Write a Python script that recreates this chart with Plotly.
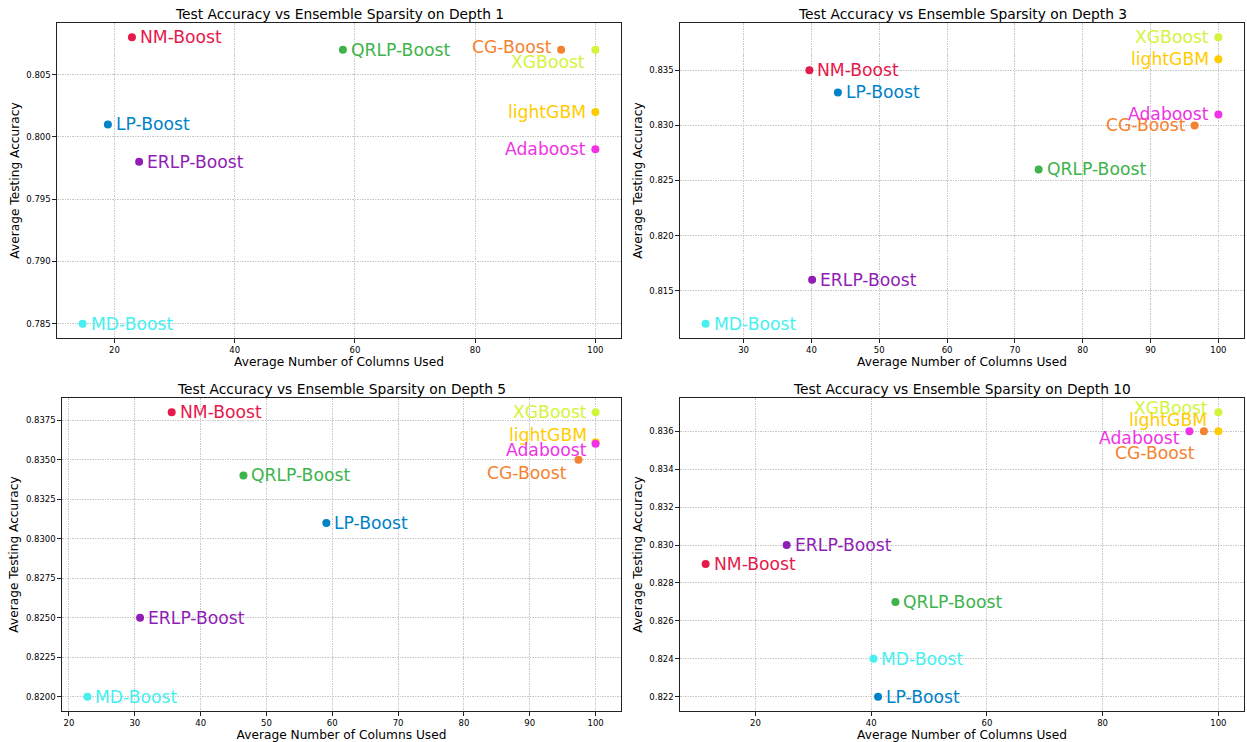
import plotly.graph_objects as go

# ---------------- data ----------------
methods = ["NM-Boost", "QRLP-Boost", "CG-Boost", "XGBoost", "lightGBM",
           "Adaboost", "LP-Boost", "ERLP-Boost", "MD-Boost"]

depth1_cols = [22.9, 58.0, 94.3, 100, 100, 100, 18.9, 24.1, 14.7]
depth1_acc = [0.808, 0.807, 0.807, 0.807, 0.802, 0.799, 0.801, 0.798, 0.785]

depth3_cols = [39.7, 73.5, 96.5, 100, 100, 100, 43.9, 40.1, 24.4]
depth3_acc = [0.835, 0.826, 0.830, 0.838, 0.836, 0.831, 0.833, 0.816, 0.812]

depth5_cols = [35.6, 46.5, 97.4, 100, 100, 100, 59.1, 30.8, 22.8]
depth5_acc = [0.838, 0.834, 0.835, 0.838, 0.8361, 0.836, 0.831, 0.825, 0.820]

depth10_cols = [11.4, 44.2, 97.5, 100, 100, 95.0, 41.2, 25.4, 40.4]
depth10_acc = [0.829, 0.827, 0.836, 0.837, 0.836, 0.836, 0.822, 0.830, 0.824]

depths = [1, 3, 5, 10]
x_ticks = {1: [20, 40, 60, 80, 100], 3: [30, 40, 50, 60, 70, 80, 90, 100],
           5: [20, 30, 40, 50, 60, 70, 80, 90, 100], 10: [20, 40, 60, 80, 100]}
y_ticks = {1: [0.785, 0.790, 0.795, 0.800, 0.805],
           3: [0.815, 0.820, 0.825, 0.830, 0.835],
           5: [0.8200, 0.8225, 0.8250, 0.8275, 0.8300, 0.8325, 0.8350, 0.8375],
           10: [0.822, 0.824, 0.826, 0.828, 0.830, 0.832, 0.834, 0.836]}
y_fmt = {1: ".3f", 3: ".3f", 5: ".4f", 10: ".3f"}

data = {1: (depth1_cols, depth1_acc), 3: (depth3_cols, depth3_acc),
        5: (depth5_cols, depth5_acc), 10: (depth10_cols, depth10_acc)}

# ---------------- styles ----------------
colors = {"NM-Boost": "#e6194b", "QRLP-Boost": "#3cb44b", "CG-Boost": "#f58231",
          "XGBoost": "#d2f53c", "lightGBM": "#ffcc00", "Adaboost": "#f032e6",
          "LP-Boost": "#0082c8", "ERLP-Boost": "#911eb4", "MD-Boost": "#46f0f0"}

# label placement per subplot: (xanchor, xshift, yshift)
place = {
    1: {"CG-Boost": ("right", -7, 3), "XGBoost": ("right", -8, -12),
        "lightGBM": ("right", -7, 0), "Adaboost": ("right", -7, 0)},
    3: {"XGBoost": ("right", -7, 0), "lightGBM": ("right", -7, 0),
        "Adaboost": ("right", -7, 0), "CG-Boost": ("right", -7, 0)},
    5: {"XGBoost": ("right", -7, 0), "lightGBM": ("right", -7, 7),
        "Adaboost": ("right", -7, -6), "CG-Boost": ("right", -9, -13)},
    10: {"XGBoost": ("right", -8, 4), "lightGBM": ("right", -9, 11),
         "Adaboost": ("right", -7, -7), "CG-Boost": ("right", -7, -22)},
}

W, H = 1247, 742
# plot-area pixel boxes (left, right, top, bottom)
boxes = {1: (57, 621, 23, 338), 3: (680, 1244, 23, 338),
         5: (62, 621, 398, 711), 10: (680, 1244, 398, 711)}

FONT = "DejaVu Sans"
fig = go.Figure()
layout = dict(width=W, height=H, margin=dict(l=0, r=0, t=0, b=0, autoexpand=False),
              plot_bgcolor="white", paper_bgcolor="white", showlegend=False,
              font=dict(family=FONT, color="black"))
annotations = []

for i, d in enumerate(depths, start=1):
    xs, ys = data[d]
    xa = "x" if i == 1 else f"x{i}"
    ya = "y" if i == 1 else f"y{i}"
    fig.add_trace(go.Scatter(
        x=xs, y=ys, mode="markers", xaxis=xa, yaxis=ya,
        marker=dict(size=8, color=[colors[m] for m in methods]),
        hovertext=methods))
    l, r, t, b = boxes[d]
    xr = max(xs) - min(xs)
    yr = max(ys) - min(ys)
    xrange = [min(xs) - 0.05 * xr, max(xs) + 0.05 * xr]
    yrange = [min(ys) - 0.05 * yr, max(ys) + 0.05 * yr]
    common = dict(showline=True, mirror=True, linecolor="#222", linewidth=1.2,
                  ticks="outside", ticklen=3.5, tickcolor="#222", tickwidth=0.8,
                  showgrid=True, gridcolor="#c8c8c8", gridwidth=0.8,
                  griddash="1.5px,1px",
                  zeroline=False, automargin=False,
                  tickfont=dict(size=8.5, family=FONT))
    xkey = "xaxis" if i == 1 else f"xaxis{i}"
    ykey = "yaxis" if i == 1 else f"yaxis{i}"
    layout[xkey] = dict(common, domain=[l / W, r / W], range=xrange,
                        anchor=ya, tickvals=x_ticks[d],
                        ticktext=[str(v) for v in x_ticks[d]],
                        title=dict(text="Average Number of Columns Used",
                                   font=dict(size=12.2, family=FONT), standoff=1))
    layout[ykey] = dict(common, domain=[1 - b / H, 1 - t / H], range=yrange,
                        anchor=xa, tickvals=y_ticks[d],
                        ticktext=[format(v, y_fmt[d]) for v in y_ticks[d]],
                        title=dict(text="Average Testing Accuracy",
                                   font=dict(size=12.2, family=FONT), standoff=4))
    annotations.append(dict(
        text=f"Test Accuracy vs Ensemble Sparsity on Depth {d}",
        xref="paper", yref="paper", x=(l + r) / 2 / W, y=1 - t / H,
        xanchor="center", yanchor="bottom", yshift=-1, showarrow=False,
        font=dict(size=13.8, family=FONT, color="black")))
    for m, xv, yv in zip(methods, xs, ys):
        xanchor, xshift, yshift = place[d].get(m, ("left", 6, 0))
        annotations.append(dict(
            text=m, x=xv, y=yv, xref=xa, yref=ya, showarrow=False,
            xanchor=xanchor, yanchor="middle", xshift=xshift, yshift=yshift,
            font=dict(size=17.2, family=FONT, color=colors[m])))

layout["annotations"] = annotations
fig.update_layout(**layout)
fig.write_html(
    "out.html",
    config={"displayModeBar": False},
    post_script="document.body.style.margin='0';document.body.style.overflow='hidden';",
)
